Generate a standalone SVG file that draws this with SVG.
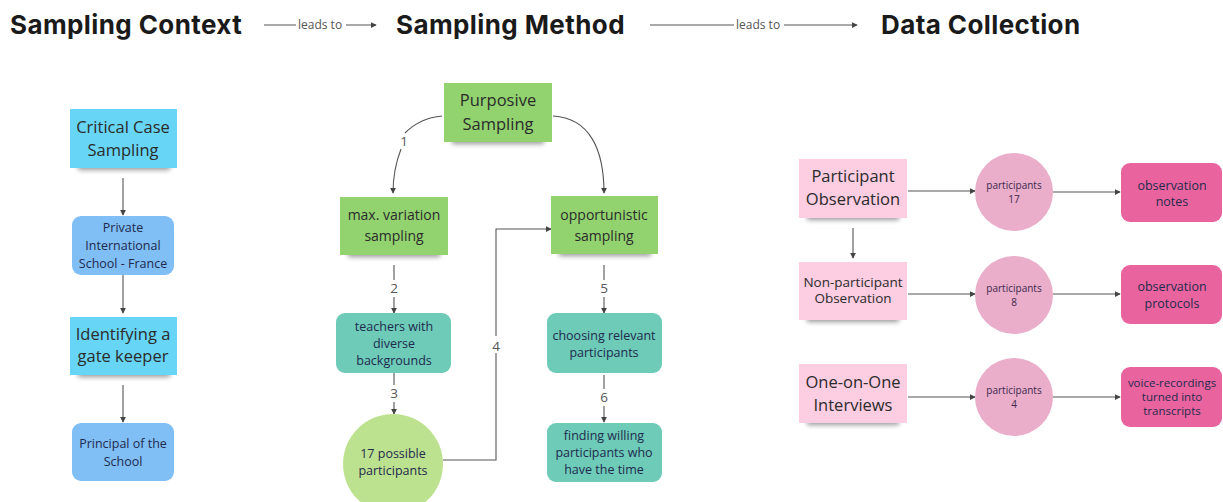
<svg xmlns="http://www.w3.org/2000/svg" width="1223" height="502" viewBox="0 0 1223 502">
  <defs>
    <marker id="arrow" viewBox="0 0 8 8" refX="7" refY="4" markerWidth="6" markerHeight="6" markerUnits="userSpaceOnUse" orient="auto">
      <path d="M0,0 L8,4 L0,8 z" fill="#444"/>
    </marker>
    <filter id="shadow" x="-20%" y="-50%" width="140%" height="200%">
      <feGaussianBlur stdDeviation="2.5"/>
    </filter>
  </defs>
  <style>
    .title { font-family: Inter, "Liberation Sans", sans-serif; font-weight: 700; font-size: 26px; letter-spacing: 0.4px; fill: #1a1a1a; }
    .lead { font-family: "Open Sans", "Liberation Sans", sans-serif; font-size: 12px; fill: #555; }
    .hdr { stroke: #555; stroke-width: 1; fill: none; }
    .conn { stroke: #555; stroke-width: 1.1; fill: none; }
    .num { font-family: "Open Sans", "Liberation Sans", sans-serif; font-size: 13.5px; fill: #555; text-anchor: middle; }
    .sh { fill: #000; opacity: 0.4; filter: url(#shadow); }
    .big { font-family: "Open Sans", "Liberation Sans", sans-serif; font-size: 16.5px; fill: #2b2b2b; text-anchor: middle; }
    .mid { font-family: "Open Sans", "Liberation Sans", sans-serif; font-size: 14px; fill: #2b2b2b; text-anchor: middle; }
    .sm { font-family: "Open Sans", "Liberation Sans", sans-serif; font-size: 12.5px; fill: #1f2a4d; text-anchor: middle; }
    .xs { font-family: "Open Sans", "Liberation Sans", sans-serif; font-size: 10px; fill: #3d2a4d; text-anchor: middle; }
    .cyan { fill: #67d5f5; }
    .blue { fill: #80bef6; }
    .green { fill: #92d36f; }
    .teal { fill: #6dcbb8; }
    .lgreen { fill: #bde28f; }
    .pink { fill: #fdcde1; }
    .pcircle { fill: #eaadca; }
    .hot { fill: #e9649e; }
  </style>

  <!-- column headings -->
  <g id="headings">
    <text class="title" x="10" y="34">Sampling Context</text>
    <text class="title" x="396" y="34">Sampling Method</text>
    <text class="title" x="881" y="34">Data Collection</text>
  </g>

  <!-- connectors -->
  <g id="connectors">
    <line class="hdr" x1="264" y1="25" x2="296" y2="25"/>
    <text class="lead" x="298" y="29">leads to</text>
    <line class="hdr" x1="346" y1="25" x2="376" y2="25" marker-end="url(#arrow)"/>
    <line class="hdr" x1="650" y1="25" x2="734" y2="25"/>
    <text class="lead" x="736" y="29">leads to</text>
    <line class="hdr" x1="784" y1="25" x2="857" y2="25" marker-end="url(#arrow)"/>

    <!-- context column -->
    <line class="conn" x1="123" y1="178" x2="123" y2="215" marker-end="url(#arrow)"/>
    <line class="conn" x1="123" y1="275" x2="123" y2="313" marker-end="url(#arrow)"/>
    <line class="conn" x1="123" y1="385" x2="123" y2="422" marker-end="url(#arrow)"/>

    <!-- method column -->
    <path class="conn" d="M442,116 C420,118 408,130 405,133"/>
    <path class="conn" d="M401,149 C396,162 393,178 393,193" marker-end="url(#arrow)"/>
    <text class="num" x="404" y="146">1</text>
    <path class="conn" d="M553,116 C590,118 604,150 604,193" marker-end="url(#arrow)"/>

    <line class="conn" x1="394" y1="265" x2="394" y2="280"/>
    <text class="num" x="394" y="293">2</text>
    <line class="conn" x1="394" y1="297" x2="394" y2="313" marker-end="url(#arrow)"/>

    <line class="conn" x1="394" y1="373" x2="394" y2="385"/>
    <text class="num" x="394" y="398">3</text>
    <line class="conn" x1="394" y1="402" x2="394" y2="414" marker-end="url(#arrow)"/>

    <path class="conn" d="M443,460 H496 V353"/>
    <text class="num" x="496" y="351">4</text>
    <path class="conn" d="M496,336 V229 H551" marker-end="url(#arrow)"/>

    <line class="conn" x1="604" y1="265" x2="604" y2="280"/>
    <text class="num" x="604" y="293">5</text>
    <line class="conn" x1="604" y1="297" x2="604" y2="313" marker-end="url(#arrow)"/>

    <line class="conn" x1="604" y1="375" x2="604" y2="389"/>
    <text class="num" x="604" y="402">6</text>
    <line class="conn" x1="604" y1="406" x2="604" y2="422" marker-end="url(#arrow)"/>

    <!-- data collection column -->
    <line class="conn" x1="908" y1="191" x2="975" y2="191" marker-end="url(#arrow)"/>
    <line class="conn" x1="1053" y1="192" x2="1120" y2="192" marker-end="url(#arrow)"/>
    <line class="conn" x1="853" y1="228" x2="853" y2="258" marker-end="url(#arrow)"/>
    <line class="conn" x1="908" y1="294" x2="975" y2="294" marker-end="url(#arrow)"/>
    <line class="conn" x1="1053" y1="294" x2="1120" y2="294" marker-end="url(#arrow)"/>
    <line class="conn" x1="908" y1="397" x2="975" y2="397" marker-end="url(#arrow)"/>
    <line class="conn" x1="1053" y1="397" x2="1120" y2="397" marker-end="url(#arrow)"/>
  </g>

  <!-- sampling context -->
  <g id="critical-case">
    <rect class="sh" x="78" y="160" width="92" height="10"/>
    <rect class="cyan" x="70" y="109" width="107" height="59"/>
    <text class="big" x="123" y="133">Critical Case</text>
    <text class="big" x="123" y="156">Sampling</text>
  </g>
  <g id="private-school">
    <rect class="blue" x="72" y="216" width="102" height="59" rx="9"/>
    <text class="sm" x="123" y="232">Private</text>
    <text class="sm" x="123" y="250">International</text>
    <text class="sm" x="123" y="268">School - France</text>
  </g>
  <g id="gate-keeper">
    <rect class="sh" x="78" y="367" width="92" height="10"/>
    <rect class="cyan" x="70" y="317" width="107" height="58"/>
    <text class="big" x="123" y="340">Identifying a</text>
    <text class="big" x="123" y="362">gate keeper</text>
  </g>
  <g id="principal">
    <rect class="blue" x="72" y="423" width="102" height="58" rx="9"/>
    <text class="sm" x="123" y="448">Principal of the</text>
    <text class="sm" x="123" y="466">School</text>
  </g>

  <!-- sampling method -->
  <g id="purposive">
    <rect class="sh" x="452" y="134" width="92" height="10"/>
    <rect class="green" x="444" y="83" width="108" height="59"/>
    <text class="big" x="498" y="106">Purposive</text>
    <text class="big" x="498" y="130">Sampling</text>
  </g>
  <g id="max-variation">
    <rect class="sh" x="348" y="247" width="92" height="10"/>
    <rect class="green" x="340" y="197" width="108" height="58"/>
    <text class="mid" x="394" y="220">max. variation</text>
    <text class="mid" x="394" y="241">sampling</text>
  </g>
  <g id="opportunistic">
    <rect class="sh" x="559" y="246" width="92" height="10"/>
    <rect class="green" x="551" y="196" width="107" height="58"/>
    <text class="mid" x="604" y="220">opportunistic</text>
    <text class="mid" x="604" y="241">sampling</text>
  </g>
  <g id="teachers">
    <rect class="teal" x="336" y="313" width="115" height="60" rx="9"/>
    <text class="sm" x="394" y="331">teachers with</text>
    <text class="sm" x="394" y="348">diverse</text>
    <text class="sm" x="394" y="365">backgrounds</text>
  </g>
  <g id="possible-participants">
    <circle class="lgreen" cx="393" cy="464" r="50"/>
    <text class="sm" x="393" y="458">17 possible</text>
    <text class="sm" x="393" y="475">participants</text>
  </g>
  <g id="choosing">
    <rect class="teal" x="547" y="313" width="115" height="60" rx="9"/>
    <text class="sm" x="604" y="340">choosing relevant</text>
    <text class="sm" x="604" y="357">participants</text>
  </g>
  <g id="finding">
    <rect class="teal" x="547" y="423" width="115" height="59" rx="9"/>
    <text class="sm" x="604" y="440">finding willing</text>
    <text class="sm" x="604" y="457">participants who</text>
    <text class="sm" x="604" y="474">have the time</text>
  </g>

  <!-- data collection -->
  <g id="participant-observation">
    <rect class="sh" x="807" y="210" width="92" height="10"/>
    <rect class="pink" x="799" y="159" width="108" height="59"/>
    <text class="big" x="853" y="182">Participant</text>
    <text class="big" x="853" y="205">Observation</text>
  </g>
  <g id="participants-17">
    <circle class="pcircle" cx="1014" cy="192" r="39"/>
    <text class="xs" x="1014" y="189">participants</text>
    <text class="xs" x="1014" y="203">17</text>
  </g>
  <g id="observation-notes">
    <rect class="hot" x="1121" y="163" width="101" height="59" rx="9"/>
    <text class="sm" x="1172" y="190">observation</text>
    <text class="sm" x="1172" y="206">notes</text>
  </g>
  <g id="non-participant-observation">
    <rect class="sh" x="807" y="312" width="92" height="10"/>
    <rect class="pink" x="799" y="262" width="108" height="58"/>
    <text class="mid" x="853" y="287" style="font-size:13.5px">Non-participant</text>
    <text class="mid" x="853" y="303" style="font-size:13.5px">Observation</text>
  </g>
  <g id="participants-8">
    <circle class="pcircle" cx="1014" cy="295" r="39"/>
    <text class="xs" x="1014" y="292">participants</text>
    <text class="xs" x="1014" y="306">8</text>
  </g>
  <g id="observation-protocols">
    <rect class="hot" x="1121" y="265" width="101" height="59" rx="9"/>
    <text class="sm" x="1172" y="291">observation</text>
    <text class="sm" x="1172" y="308">protocols</text>
  </g>
  <g id="interviews">
    <rect class="sh" x="807" y="415" width="92" height="10"/>
    <rect class="pink" x="799" y="364" width="108" height="59"/>
    <text class="big" x="853" y="388">One-on-One</text>
    <text class="big" x="853" y="411">Interviews</text>
  </g>
  <g id="participants-4">
    <circle class="pcircle" cx="1014" cy="397" r="39"/>
    <text class="xs" x="1014" y="394">participants</text>
    <text class="xs" x="1014" y="408">4</text>
  </g>
  <g id="voice-recordings">
    <rect class="hot" x="1121" y="367" width="101" height="60" rx="9"/>
    <text class="sm" x="1172" y="387" style="font-size:11.5px">voice-recordings</text>
    <text class="sm" x="1172" y="401" style="font-size:11.5px">turned into</text>
    <text class="sm" x="1172" y="415" style="font-size:11.5px">transcripts</text>
  </g>
</svg>
